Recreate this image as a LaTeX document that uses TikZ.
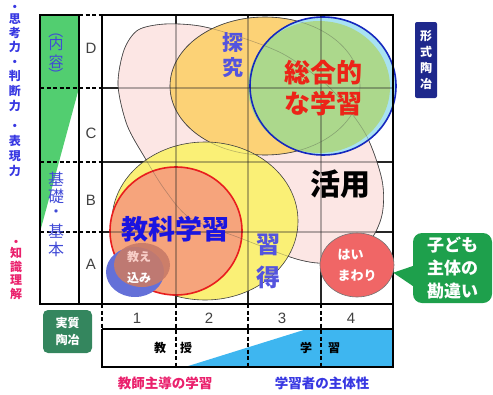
\documentclass[tikz,border=0pt]{standalone}
\usepackage{fontspec}
\newfontfamily\jpfont{Noto Sans CJK JP}
\newfontfamily\latfont{Liberation Sans}
\usetikzlibrary{shapes.geometric}

\definecolor{colgreen}{RGB}{82,206,112}
\definecolor{learnblue}{RGB}{62,182,240}
\definecolor{blobpink}{RGB}{252,230,228}
\definecolor{tanorange}{RGB}{252,210,118}
\definecolor{sogocyan}{RGB}{168,226,242}
\definecolor{sogogreen}{RGB}{172,216,140}
\definecolor{sogoblue}{RGB}{22,40,190}
\definecolor{shuyellow}{RGB}{250,240,118}
\definecolor{kyosalmon}{RGB}{246,164,124}
\definecolor{kyored}{RGB}{232,30,30}
\definecolor{oshiblue}{RGB}{100,112,216}
\definecolor{oshibrown}{RGB}{200,122,104}
\definecolor{oshipale}{RGB}{248,206,200}
\definecolor{haired}{RGB}{240,102,102}
\definecolor{bubblegreen}{RGB}{30,160,76}
\definecolor{jisgreen}{RGB}{52,134,94}
\definecolor{keinavy}{RGB}{30,40,140}
\definecolor{thinkblue}{RGB}{56,56,226}
\definecolor{knowpink}{RGB}{234,32,108}
\definecolor{basicblue}{RGB}{64,74,214}
\definecolor{tanblue}{RGB}{84,84,222}
\definecolor{kyoblue}{RGB}{26,20,224}
\definecolor{sogored}{RGB}{236,36,24}
\definecolor{labgray}{RGB}{64,64,64}

\newcommand{\blobline}{plot[smooth cycle] coordinates {(118,85) (124,50) (138,30) (165,24) (200,26) (240,37) (285,55) (330,88) (365,133) (382,180) (382,215) (368,243) (335,262) (300,260) (240,238) (190,218) (165,190) (145,158) (127,125)}}

\begin{document}
\begin{tikzpicture}[x=1pt,y=-1pt,
    frame/.style={line width=1.5pt,black},
    gridline/.style={line width=1.2pt,black!85},
    dashline/.style={line width=1.5pt,black,dash pattern=on 4pt off 2.5pt},
    ghost/.style={draw opacity=0.35},
    outline/.style={draw=black!75,line width=0.6pt},
    jp/.style={inner sep=0pt,font=\jpfont\bfseries\fontsize{#1}{#1}\selectfont},
    jpr/.style={inner sep=0pt,font=\jpfont\fontsize{#1}{#1}\selectfont},
    lab/.style={inner sep=0pt,text=labgray,font=\latfont\fontsize{15}{15}\selectfont}]
\useasboundingbox (0,0) rectangle (493,394);

\fill[colgreen] (40,15) -- (79,15) -- (79,88) -- (40,232) -- cycle;
\fill[learnblue] (185,367) -- (307,329) -- (393,329) -- (393,367) -- cycle;

\foreach \x in {176,248,321}
    \draw[gridline] (\x,15) -- (\x,304);
\foreach \y in {88,162,232}
    \draw[gridline] (102,\y) -- (393,\y);

\filldraw[fill=blobpink,outline] \blobline;
\filldraw[fill=tanorange,outline] (265,86) ellipse [x radius=95pt,y radius=69pt];
\fill[sogocyan] (323,86) ellipse [x radius=73pt,y radius=69pt];
\fill[sogogreen] (319,87) ellipse [x radius=71pt,y radius=66pt];
\draw[sogoblue,line width=1.6pt] (323,86) ellipse [x radius=73pt,y radius=69pt];
\filldraw[fill=shuyellow,outline] (205,221) ellipse [x radius=93pt,y radius=79pt];
\filldraw[fill=kyosalmon,draw=kyored,line width=1.6pt] (176,231) ellipse [x radius=66pt,y radius=64pt];
\fill[oshiblue] (135,272) ellipse [x radius=29pt,y radius=25pt];
\fill[oshibrown,fill opacity=0.9] (142,265) ellipse [x radius=28pt,y radius=22pt];

% lines seen through the shapes
\foreach \x in {176,248,321}
    \draw[gridline,ghost] (\x,15) -- (\x,304);
\foreach \y in {88,162,232}
    \draw[gridline,ghost] (102,\y) -- (393,\y);
\draw[outline,ghost] \blobline;
\draw[outline,ghost] (265,86) ellipse [x radius=95pt,y radius=69pt];

\draw[frame] (79,15) -- (40,15) -- (40,304) -- (393,304) -- (393,15) -- (102,15);
\draw[frame] (79,15) -- (79,304) (102,15) -- (102,304);
\draw[dashline] (79,15) -- (102,15);
\foreach \y in {88,162,232}
    \draw[dashline] (40,\y) -- (102,\y);

\draw[dashline] (102,304) -- (102,329);
\draw[frame] (102,329) -- (393,329) (102,329) -- (102,367) -- (393,367) -- (393,304);
\foreach \x in {176,248,321}
    \draw[dashline] (\x,304) -- (\x,367);

\node[ellipse,draw=black!55,line width=0.6pt,fill=haired,minimum width=74pt,minimum height=64pt,inner sep=0pt,
      align=left,text=white,font=\jpfont\bfseries\fontsize{13}{21}\selectfont] (hai) at (357,265) {はい\\まわり};
\node[rectangle,rounded corners=9pt,fill=bubblegreen,minimum width=79pt,minimum height=70pt,align=center,
      text=white,font=\jpfont\bfseries\fontsize{17}{23}\selectfont] (mistake) at (452.5,268) {子ども\\主体の\\勘違い};
\fill[bubblegreen] ([xshift=3pt,yshift=3pt]mistake.west) -- (hai.-12) -- ([xshift=3pt,yshift=-20pt]mistake.west) -- cycle;

\node[rectangle,rounded corners=2pt,fill=keinavy,minimum width=22pt,minimum height=76pt,inner sep=0pt,align=center,
      text=white,font=\jpfont\bfseries\fontsize{12}{16.3}\selectfont] (keishiki) at (426,60) {形\\式\\陶\\冶};
\node[rectangle,rounded corners=5pt,fill=jisgreen,minimum width=49pt,minimum height=43pt,inner sep=0pt,align=center,
      text=white,font=\jpfont\bfseries\fontsize{12}{17}\selectfont] (jisshitsu) at (67.5,331.5) {実質\\陶冶};

\foreach \r/\y in {D/48,C/133,B/200,A/264}
    \node[lab] (row\r) at (91,\y) {\r};
\foreach \c/\x in {1/137,2/209,3/282,4/351}
    \node[lab] (col\c) at (\x,318) {\c};

\foreach \ch/\y [count=\i] in {・/8,思/19,考/33,力/47,・/63,判/76,断/91,力/106,・/127,表/141,現/156,力/171}
    \node[jp=12,text=thinkblue] (think\i) at (15,\y) {\ch};
\foreach \ch/\y [count=\i] in {・/243,知/253,識/267,理/280,解/294}
    \node[jp=12,text=knowpink] (know\i) at (16,\y) {\ch};
\node[jpr=15,text=basicblue,rotate=-90] (naiyouL) at (56,31) {（};
\node[jpr=15,text=basicblue] (naiyou1) at (56,44) {内};
\node[jpr=15,text=basicblue] (naiyou2) at (56,62) {容};
\node[jpr=15,text=basicblue,rotate=-90] (naiyouR) at (56,75) {）};
\foreach \ch/\y [count=\i] in {基/179,礎/196,・/214,基/231,本/249}
    \node[jpr=16,text=basicblue] (kiso\i) at (56,\y) {\ch};

\node[jp=21,text=tanblue] (tan1) at (233,43) {探};
\node[jp=21,text=tanblue] (tan2) at (233,68) {究};
\node[jp=24,text=tanblue] (shu1) at (268,245) {習};
\node[jp=24,text=tanblue] (shu2) at (268,277) {得};
\node[inner sep=0pt,align=center,text=sogored,font=\jpfont\bfseries\fontsize{26}{31}\selectfont] (sogo) at (323,88) {総合的\\な学習};
\node[jp=27,text=kyoblue] (kyouka) at (175,229) {教科学習};
\node[jp=30] (katsuyou) at (340,184) {活用};
\node[inner sep=0pt,align=center,text=white,font=\jpfont\bfseries\fontsize{12}{21}\selectfont] (oshie) at (139,267) {{\color{oshipale}教え}\\込み};

\node[jp=12] (kyou) at (160,348) {教};
\node[jp=12] (ju) at (186,348) {授};
\node[jp=12] (gaku) at (306,348) {学};
\node[jp=12] (shuu) at (334,348) {習};
\node[jp=13.5,text=knowpink] (teacher) at (165,383) {教師主導の学習};
\node[jp=13.5,text=thinkblue] (learner) at (322,383) {学習者の主体性};
\end{tikzpicture}
\end{document}
